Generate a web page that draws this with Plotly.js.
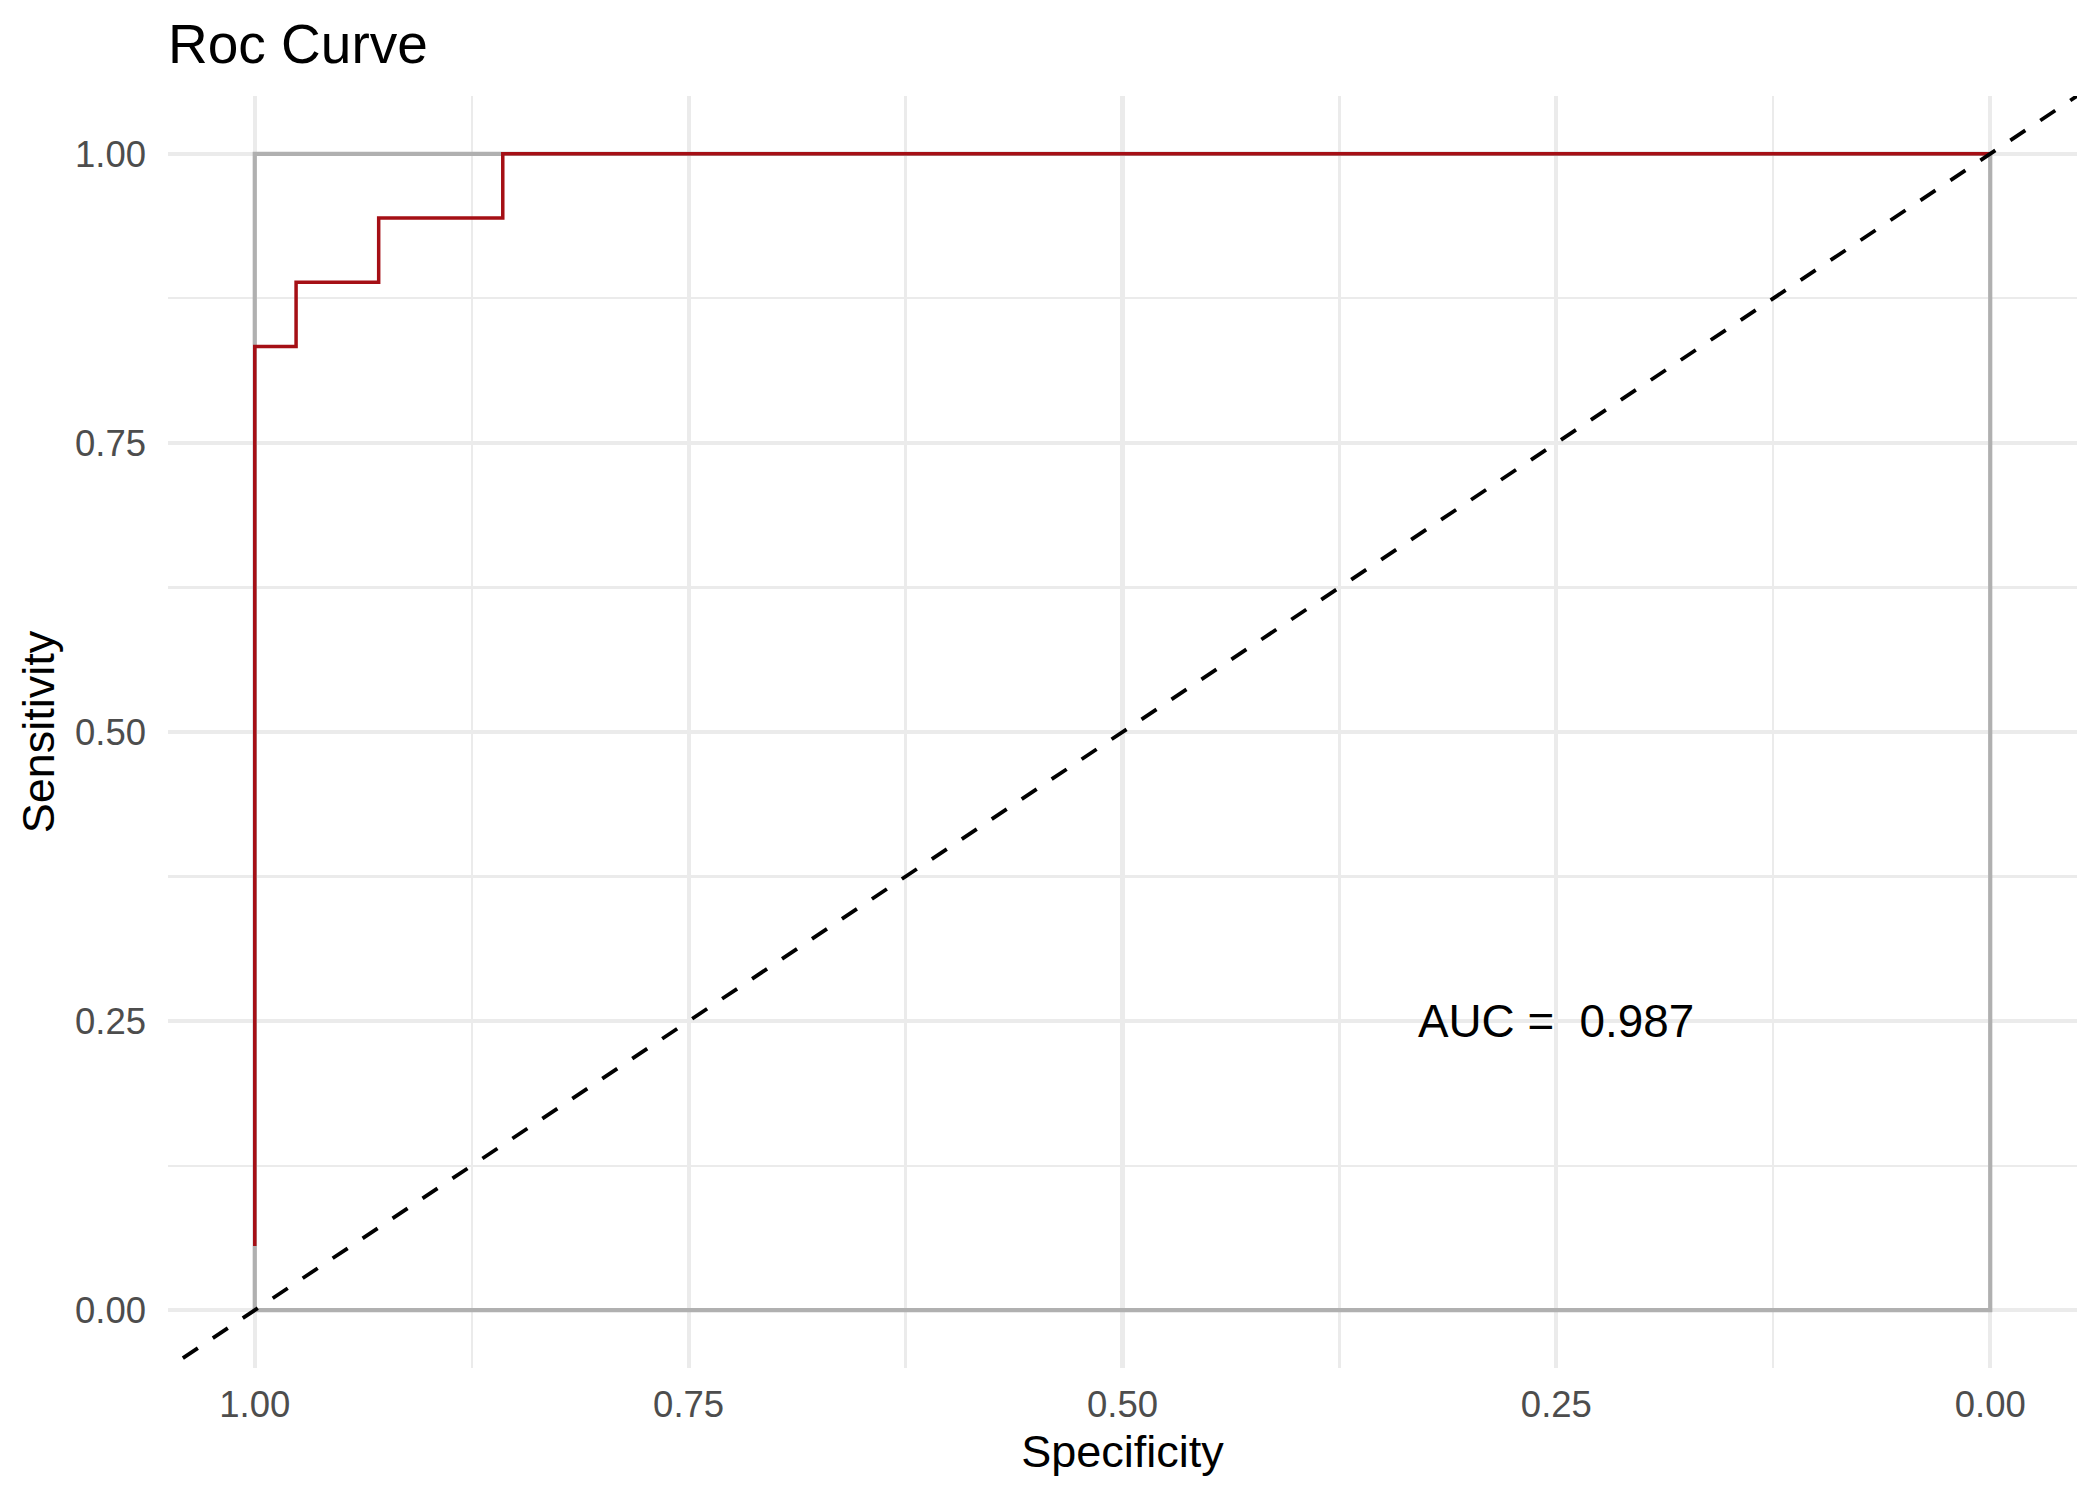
<!DOCTYPE html>
<html>
<head>
<meta charset="utf-8">
<script src="https://cdn.plot.ly/plotly-3.0.1.min.js"></script>
<style>
  html, body { margin: 0; padding: 0; background: #ffffff; }
  #chart { width: 2100px; height: 1500px; }
</style>
</head>
<body>
<div id="chart"></div>
<script>
// ---- Data ----
// ROC curve corner points (specificity, sensitivity)
const rocSpecificity = [1, 1, 0.9762, 0.9762, 0.9286, 0.9286, 0.8571, 0.8571, 0];
const rocSensitivity = [0.0556, 0.8333, 0.8333, 0.8889, 0.8889, 0.9444, 0.9444, 1, 1];

// Grey reference frame (perfect-classifier box)
const frameSpecificity = [1, 1, 0, 0, 1];
const frameSensitivity = [0, 1, 1, 0, 0];

// Chance diagonal: sensitivity = intercept + slope * specificity
const chanceIntercept = 1;
const chanceSlope = -1;

// Axis ticks
const tickValues = [1, 0.75, 0.5, 0.25, 0];
const tickLabels = ["1.00", "0.75", "0.50", "0.25", "0.00"];

// Annotation
const aucLabel = "AUC = \u00a00.987";
const aucPosition = { spec: 0.25, sens: 0.25 };

// ---- Layout constants ----
const xRange = [1.05, -0.05];
const yRange = [-0.05, 1.05];
const fontFamily = "Liberation Sans, Arial, Helvetica, sans-serif";
const gridColor = "#EBEBEB";

// the abline spans the whole panel (clipped); start slightly outside so the dash phase matches
const dashPhase = 0.0087;
const diagX = [xRange[0] + dashPhase, xRange[1]];
const diagY = diagX.map(s => chanceIntercept + chanceSlope * s);

const traces = [
  {
    x: frameSpecificity, y: frameSensitivity,
    type: "scatter", mode: "lines",
    line: { color: "#B0B0B0", width: 4.2 },
    hoverinfo: "skip", showlegend: false
  },
  {
    x: rocSpecificity, y: rocSensitivity,
    type: "scatter", mode: "lines",
    line: { color: "#A50F15", width: 3.5 },
    name: "ROC", showlegend: false
  },
  {
    x: diagX, y: diagY,
    type: "scatter", mode: "lines",
    line: { color: "#000000", width: 3.8, dash: "18px,18px" },
    hoverinfo: "skip", showlegend: false
  }
];

const layout = {
  width: 2100, height: 1500,
  paper_bgcolor: "#ffffff", plot_bgcolor: "#ffffff",
  margin: { l: 168, r: 23, t: 96, b: 132, pad: 0 },
  font: { family: fontFamily, color: "#000000" },
  showlegend: false,
  title: {
    text: "Roc Curve",
    font: { family: fontFamily, size: 55, color: "#000000" },
    xref: "paper", x: 0, xanchor: "left",
    yref: "container", y: 1 - 43.5 / 1500, yanchor: "middle"
  },
  xaxis: {
    range: xRange,
    tickmode: "array", tickvals: tickValues, ticktext: tickLabels,
    tickfont: { family: fontFamily, size: 36.5, color: "#4D4D4D" },
    ticks: "", showline: false, zeroline: false,
    showgrid: true, gridcolor: gridColor, gridwidth: 4.2,
    ticklabelstandoff: 11,
    minor: { tickmode: "array", tickvals: [0.875, 0.625, 0.375, 0.125], showgrid: true, gridcolor: gridColor, gridwidth: 2.2, ticks: "" },
    title: { text: "Specificity", font: { family: fontFamily, size: 45, color: "#000000" }, standoff: 11 },
    automargin: false
  },
  yaxis: {
    range: yRange,
    tickmode: "array", tickvals: tickValues, ticktext: tickLabels,
    tickfont: { family: fontFamily, size: 36.5, color: "#4D4D4D" },
    ticks: "", showline: false, zeroline: false,
    showgrid: true, gridcolor: gridColor, gridwidth: 4.2,
    ticklabelstandoff: 21,
    minor: { tickmode: "array", tickvals: [0.125, 0.375, 0.625, 0.875], showgrid: true, gridcolor: gridColor, gridwidth: 2.2, ticks: "" },
    title: { text: "Sensitivity", font: { family: fontFamily, size: 45, color: "#000000" }, standoff: 6 },
    automargin: false
  },
  annotations: [
    {
      x: aucPosition.spec, y: aucPosition.sens, xref: "x", yref: "y",
      text: aucLabel, showarrow: false,
      xanchor: "center", yanchor: "middle",
      font: { family: fontFamily, size: 45.8, color: "#000000" }
    }
  ]
};

Plotly.newPlot("chart", traces, layout, { displayModeBar: false, staticPlot: true });
</script>
</body>
</html>
